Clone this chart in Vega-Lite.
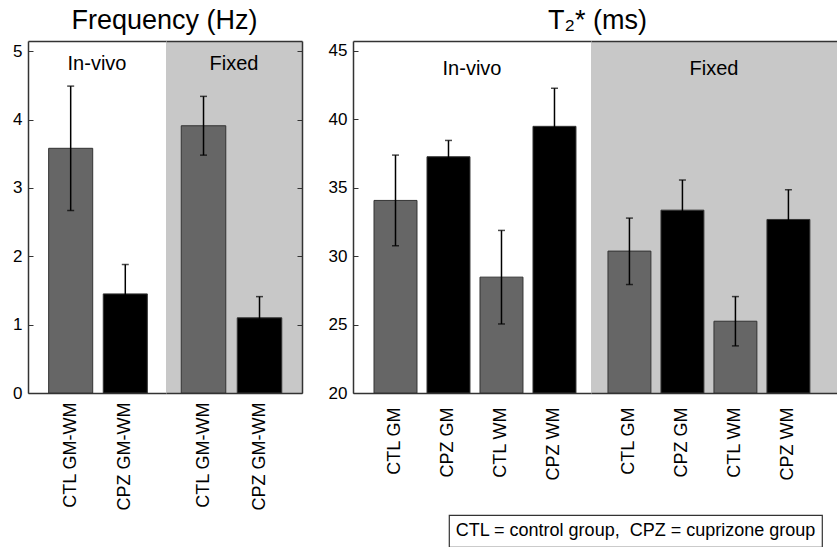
{
  "$schema": "https://vega.github.io/schema/vega-lite/v6.json",
  "padding": {"left": 12, "top": 7, "right": 0, "bottom": 0},
  "config": {
    "font": "Liberation Sans",
    "view": {"stroke": null},
    "axis": {"grid": false, "domainColor": "#333333", "domainWidth": 1.5, "labelFontSize": 17, "labelColor": "#000000", "tickColor": "#333333", "tickSize": -5, "labelPadding": 11, "title": null},
    "title": {"fontSize": 27, "fontWeight": "normal", "color": "#000000", "offset": 6, "anchor": "middle"}
  },
  "datasets": {
    "freq_iv": [
      {"grp": "CTL GM-WM", "subj": "CTL", "v": 3.58, "lo": 2.67, "hi": 4.49},
      {"grp": "CPZ GM-WM", "subj": "CPZ", "v": 1.45, "lo": 1.02, "hi": 1.88}
    ],
    "freq_fx": [
      {"grp": "CTL GM-WM", "subj": "CTL", "v": 3.91, "lo": 3.48, "hi": 4.34},
      {"grp": "CPZ GM-WM", "subj": "CPZ", "v": 1.10, "lo": 0.79, "hi": 1.41}
    ],
    "t2_iv": [
      {"grp": "CTL GM", "subj": "CTL", "v": 34.06, "lo": 30.75, "hi": 37.37},
      {"grp": "CPZ GM", "subj": "CPZ", "v": 37.25, "lo": 36.06, "hi": 38.44},
      {"grp": "CTL WM", "subj": "CTL", "v": 28.46, "lo": 25.04, "hi": 31.87},
      {"grp": "CPZ WM", "subj": "CPZ", "v": 39.47, "lo": 36.69, "hi": 42.25}
    ],
    "t2_fx": [
      {"grp": "CTL GM", "subj": "CTL", "v": 30.36, "lo": 27.92, "hi": 32.77},
      {"grp": "CPZ GM", "subj": "CPZ", "v": 33.35, "lo": 31.15, "hi": 35.55},
      {"grp": "CTL WM", "subj": "CTL", "v": 25.24, "lo": 23.44, "hi": 27.04},
      {"grp": "CPZ WM", "subj": "CPZ", "v": 32.67, "lo": 30.50, "hi": 34.84}
    ],
    "lab_iv": [{"label": "In-vivo"}],
    "lab_fx": [{"label": "Fixed"}],
    "note": [{"note": "CTL = control group,\u00a0 CPZ = cuprizone group"}]
  },
  "spacing": 4,
  "vconcat": [
    {
      "spacing": 25,
      "hconcat": [
        {
          "title": {"text": "Frequency (Hz)", "dx": 7},
          "bounds": "flush",
          "spacing": 0,
          "hconcat": [
            {
              "width": 138, "height": 352,
              "data": {"name": "freq_iv"},
              "layer": [
                {
                  "mark": {"type": "bar", "stroke": "#333333", "strokeWidth": 1},
                  "encoding": {
                    "x": {"field": "grp", "type": "nominal", "scale": {"domain": ["CTL GM-WM", "CPZ GM-WM"], "paddingInner": 0.193, "paddingOuter": 0.36, "align": 0.525}, "axis": {"orient": "bottom", "labelAngle": 270, "ticks": false, "labelFontSize": 18, "labelPadding": 9}},
                    "y": {"field": "v", "type": "quantitative", "scale": {"domain": [0, 5.15], "nice": false}, "axis": {"values": [0, 1, 2, 3, 4, 5]}},
                    "color": {"field": "subj", "type": "nominal", "scale": {"domain": ["CTL", "CPZ"], "range": ["#666666", "#000000"]}, "legend": null}
                  }
                },
                {
                  "mark": {"type": "rule", "strokeWidth": 1.5, "color": "#000000"},
                  "encoding": {
                    "x": {"field": "grp", "type": "nominal", "axis": {"orient": "top", "labels": false, "ticks": false}},
                    "y": {"field": "lo", "type": "quantitative", "scale": {"domain": [0, 5.15], "nice": false}, "axis": null},
                    "y2": {"field": "hi"}
                  }
                },
                {
                  "mark": {"type": "tick", "size": 7, "thickness": 1.5, "color": "#000000"},
                  "encoding": {
                    "x": {"field": "grp", "type": "nominal", "axis": null},
                    "y": {"field": "lo", "type": "quantitative", "axis": null}
                  }
                },
                {
                  "mark": {"type": "tick", "size": 7, "thickness": 1.5, "color": "#000000"},
                  "encoding": {
                    "x": {"field": "grp", "type": "nominal", "axis": null},
                    "y": {"field": "hi", "type": "quantitative", "axis": null}
                  }
                },
                {
                  "data": {"name": "lab_iv"},
                  "mark": {"type": "text", "baseline": "alphabetic", "fontSize": 20, "color": "#000000"},
                  "encoding": {"y": {"datum": 4.72, "axis": null}, "text": {"field": "label"}}
                }
              ],
              "resolve": {"axis": {"x": "independent", "y": "independent"}}
            },
            {
              "width": 136, "height": 352,
              "view": {"fill": "#c8c8c8", "stroke": null},
              "data": {"name": "freq_fx"},
              "layer": [
                {
                  "mark": {"type": "bar", "stroke": "#333333", "strokeWidth": 1},
                  "encoding": {
                    "x": {"field": "grp", "type": "nominal", "scale": {"domain": ["CTL GM-WM", "CPZ GM-WM"], "paddingInner": 0.205, "paddingOuter": 0.317, "align": 0.43}, "axis": {"orient": "bottom", "labelAngle": 270, "ticks": false, "labelFontSize": 18, "labelPadding": 9}},
                    "y": {"field": "v", "type": "quantitative", "scale": {"domain": [0, 5.15], "nice": false}, "axis": null},
                    "color": {"field": "subj", "type": "nominal", "scale": {"domain": ["CTL", "CPZ"], "range": ["#666666", "#000000"]}, "legend": null}
                  }
                },
                {
                  "mark": {"type": "rule", "strokeWidth": 1.5, "color": "#000000"},
                  "encoding": {
                    "x": {"field": "grp", "type": "nominal", "axis": {"orient": "top", "labels": false, "ticks": false}},
                    "y": {"field": "lo", "type": "quantitative", "scale": {"domain": [0, 5.15], "nice": false}, "axis": {"orient": "right", "labels": false, "values": [0, 1, 2, 3, 4, 5]}},
                    "y2": {"field": "hi"}
                  }
                },
                {
                  "mark": {"type": "tick", "size": 7, "thickness": 1.5, "color": "#000000"},
                  "encoding": {
                    "x": {"field": "grp", "type": "nominal", "axis": null},
                    "y": {"field": "lo", "type": "quantitative", "axis": null}
                  }
                },
                {
                  "mark": {"type": "tick", "size": 7, "thickness": 1.5, "color": "#000000"},
                  "encoding": {
                    "x": {"field": "grp", "type": "nominal", "axis": null},
                    "y": {"field": "hi", "type": "quantitative", "axis": null}
                  }
                },
                {
                  "data": {"name": "lab_fx"},
                  "mark": {"type": "text", "baseline": "alphabetic", "fontSize": 20, "color": "#000000"},
                  "encoding": {"y": {"datum": 4.72, "axis": null}, "text": {"field": "label"}}
                }
              ],
              "resolve": {"axis": {"x": "independent", "y": "independent"}}
            }
          ]
        },
        {
          "title": {"text": "T₂* (ms)", "dx": 15},
          "bounds": "flush",
          "spacing": 0,
          "hconcat": [
            {
              "width": 238, "height": 352,
              "data": {"name": "t2_iv"},
              "layer": [
                {
                  "mark": {"type": "bar", "stroke": "#333333", "strokeWidth": 1},
                  "encoding": {
                    "x": {"field": "grp", "type": "nominal", "scale": {"domain": ["CTL GM", "CPZ GM", "CTL WM", "CPZ WM"], "paddingInner": 0.189, "paddingOuter": 0.34, "align": 0.583}, "axis": {"orient": "bottom", "labelAngle": 270, "ticks": false, "labelFontSize": 18, "labelPadding": 14}},
                    "y": {"field": "v", "type": "quantitative", "scale": {"domain": [20, 45.7], "nice": false, "zero": false}, "axis": {"values": [20, 25, 30, 35, 40, 45]}},
                    "y2": {"datum": 20},
                    "color": {"field": "subj", "type": "nominal", "scale": {"domain": ["CTL", "CPZ"], "range": ["#666666", "#000000"]}, "legend": null}
                  }
                },
                {
                  "mark": {"type": "rule", "strokeWidth": 1.5, "color": "#000000"},
                  "encoding": {
                    "x": {"field": "grp", "type": "nominal", "axis": {"orient": "top", "labels": false, "ticks": false}},
                    "y": {"field": "lo", "type": "quantitative", "scale": {"domain": [20, 45.7], "nice": false, "zero": false}, "axis": null},
                    "y2": {"field": "hi"}
                  }
                },
                {
                  "mark": {"type": "tick", "size": 7, "thickness": 1.5, "color": "#000000"},
                  "encoding": {
                    "x": {"field": "grp", "type": "nominal", "axis": null},
                    "y": {"field": "lo", "type": "quantitative", "axis": null}
                  }
                },
                {
                  "mark": {"type": "tick", "size": 7, "thickness": 1.5, "color": "#000000"},
                  "encoding": {
                    "x": {"field": "grp", "type": "nominal", "axis": null},
                    "y": {"field": "hi", "type": "quantitative", "axis": null}
                  }
                },
                {
                  "data": {"name": "lab_iv"},
                  "mark": {"type": "text", "baseline": "alphabetic", "fontSize": 20, "color": "#000000"},
                  "encoding": {"y": {"datum": 43.25, "axis": null}, "text": {"field": "label"}}
                }
              ],
              "resolve": {"axis": {"x": "independent", "y": "independent"}}
            },
            {
              "width": 246, "height": 352,
              "view": {"fill": "#c8c8c8", "stroke": null},
              "data": {"name": "t2_fx"},
              "layer": [
                {
                  "mark": {"type": "bar", "stroke": "#333333", "strokeWidth": 1},
                  "encoding": {
                    "x": {"field": "grp", "type": "nominal", "scale": {"domain": ["CTL GM", "CPZ GM", "CTL WM", "CPZ WM"], "paddingInner": 0.19, "paddingOuter": 0.416, "align": 0.385}, "axis": {"orient": "bottom", "labelAngle": 270, "ticks": false, "labelFontSize": 18, "labelPadding": 14}},
                    "y": {"field": "v", "type": "quantitative", "scale": {"domain": [20, 45.7], "nice": false, "zero": false}, "axis": null},
                    "y2": {"datum": 20},
                    "color": {"field": "subj", "type": "nominal", "scale": {"domain": ["CTL", "CPZ"], "range": ["#666666", "#000000"]}, "legend": null}
                  }
                },
                {
                  "mark": {"type": "rule", "strokeWidth": 1.5, "color": "#000000"},
                  "encoding": {
                    "x": {"field": "grp", "type": "nominal", "axis": {"orient": "top", "labels": false, "ticks": false}},
                    "y": {"field": "lo", "type": "quantitative", "scale": {"domain": [20, 45.7], "nice": false, "zero": false}, "axis": null},
                    "y2": {"field": "hi"}
                  }
                },
                {
                  "mark": {"type": "tick", "size": 7, "thickness": 1.5, "color": "#000000"},
                  "encoding": {
                    "x": {"field": "grp", "type": "nominal", "axis": null},
                    "y": {"field": "lo", "type": "quantitative", "axis": null}
                  }
                },
                {
                  "mark": {"type": "tick", "size": 7, "thickness": 1.5, "color": "#000000"},
                  "encoding": {
                    "x": {"field": "grp", "type": "nominal", "axis": null},
                    "y": {"field": "hi", "type": "quantitative", "axis": null}
                  }
                },
                {
                  "data": {"name": "lab_fx"},
                  "mark": {"type": "text", "baseline": "alphabetic", "fontSize": 20, "color": "#000000"},
                  "encoding": {"y": {"datum": 43.25, "axis": null}, "text": {"field": "label"}}
                }
              ],
              "resolve": {"axis": {"x": "independent", "y": "independent"}}
            }
          ]
        }
      ]
    },
    {
      "spacing": 0,
      "hconcat": [
        {
          "width": 420,
          "height": 32,
          "data": {"name": "note"},
          "mark": {"type": "text"},
          "encoding": {"text": {"value": ""}}
        },
        {
          "width": 373,
          "height": 32,
          "data": {"name": "note"},
          "mark": {"type": "text", "fontSize": 18, "color": "#000000"},
          "encoding": {"text": {"field": "note"}},
          "view": {"stroke": "#333333", "strokeWidth": 1.2}
        }
      ]
    }
  ]
}
